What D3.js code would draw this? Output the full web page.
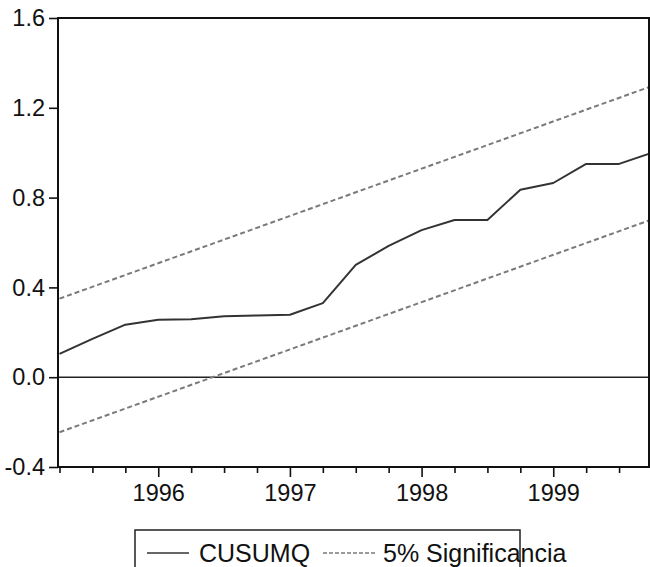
<!DOCTYPE html>
<html>
<head>
<meta charset="utf-8">
<script src="https://cdn.jsdelivr.net/npm/d3@7"></script>
<style>
  body { margin: 0; background: #fff; }
  svg { display: block; font-family: "Liberation Sans", Arial, sans-serif; }
</style>
</head>
<body>
<svg width="650" height="567"></svg>
<script>
const quarters = ["1995Q2","1995Q3","1995Q4",
  "1996Q1","1996Q2","1996Q3","1996Q4",
  "1997Q1","1997Q2","1997Q3","1997Q4",
  "1998Q1","1998Q2","1998Q3","1998Q4",
  "1999Q1","1999Q2","1999Q3","1999Q4"];

const cusumq = [0.104, 0.171, 0.234, 0.256, 0.258, 0.272, 0.275,
  0.278, 0.33, 0.50, 0.585, 0.655, 0.70, 0.70,
  0.835, 0.865, 0.95, 0.95, 1.0];

// 5% bands are straight lines, so only the two ends are kept
const bandQuarters = ["1995Q2", "1999Q4"];
const upperBand = [0.35, 1.297];
const lowerBand = [-0.245, 0.703];

const yTicks = [-0.4, 0.0, 0.4, 0.8, 1.2, 1.6];
const legendLabels = ["CUSUMQ", "5% Significancia"];

let svg = d3.select("svg");

const frame = { left: 58, right: 649, top: 18, bottom: 467 };

let x = d3.scaleLinear()
    .domain([0, quarters.length - 1])
    .range([59.5, 652]);

let y = d3.scaleLinear()
    .domain([-0.4, 1.6])
    .range([frame.bottom, frame.top]);

const qi = q => quarters.indexOf(q);
const fmt = d => d3.format(".1f")(d).replace("\u2212", "-");

svg.append("clipPath").attr("id", "plot")
  .append("rect")
    .attr("x", frame.left).attr("y", frame.top)
    .attr("width", frame.right - frame.left)
    .attr("height", frame.bottom - frame.top);

let plot = svg.append("g").attr("clip-path", "url(#plot)");

// zero line
plot.append("line")
    .attr("x1", frame.left).attr("x2", frame.right)
    .attr("y1", y(0)).attr("y2", y(0))
    .attr("stroke", "#222").attr("stroke-width", 1.6);

let bandLine = d3.line()
    .x((d, i) => x(qi(bandQuarters[i])))
    .y(d => y(d));

[upperBand, lowerBand].forEach(b => {
  plot.append("path")
      .datum(b)
      .attr("d", bandLine)
      .attr("fill", "none")
      .attr("stroke", "#7a7a7a")
      .attr("stroke-width", 2)
      .attr("stroke-dasharray", "5,3");
});

plot.append("path")
    .datum(cusumq)
    .attr("d", d3.line().x((d, i) => x(i)).y(d => y(d)))
    .attr("fill", "none")
    .attr("stroke", "#333")
    .attr("stroke-width", 2)
    .attr("stroke-linejoin", "round");

// frame
svg.append("rect")
    .attr("x", frame.left).attr("y", frame.top)
    .attr("width", frame.right - frame.left)
    .attr("height", frame.bottom - frame.top)
    .attr("fill", "none")
    .attr("stroke", "#111")
    .attr("stroke-width", 2);

// y axis
let yAxis = d3.axisLeft(y)
    .tickValues(yTicks)
    .tickSize(9)
    .tickPadding(4)
    .tickFormat(fmt);

let gY = svg.append("g")
    .attr("transform", `translate(${frame.left},0)`)
    .call(yAxis);
gY.select(".domain").remove();
gY.selectAll(".tick line").attr("stroke", "#111").attr("stroke-width", 1.6);
gY.selectAll(".tick text")
    .attr("font-size", 23.5)
    .attr("fill", "#111")
    .attr("dy", "0.33em");

// x axis: quarter ticks, years labelled at Q1
let xAxis = d3.axisBottom(x)
    .tickValues(d3.range(quarters.length))
    .tickSize(0)
    .tickPadding(17)
    .tickFormat(i => quarters[i].endsWith("Q1") ? quarters[i].slice(0, 4) : "");

let gX = svg.append("g")
    .attr("transform", `translate(0,${frame.bottom})`)
    .call(xAxis);
gX.select(".domain").remove();
gX.selectAll(".tick line")
    .attr("y2", i => quarters[i].endsWith("Q1") ? 10 : 6)
    .attr("stroke", "#111")
    .attr("stroke-width", 1.6);
gX.selectAll(".tick text")
    .attr("font-size", 23.5)
    .attr("fill", "#111");

// legend
let legend = svg.append("g");
legend.append("rect")
    .attr("x", 135).attr("y", 530)
    .attr("width", 385).attr("height", 50)
    .attr("fill", "none")
    .attr("stroke", "#222")
    .attr("stroke-width", 1.5);

legend.append("line")
    .attr("x1", 147).attr("x2", 189)
    .attr("y1", 553).attr("y2", 553)
    .attr("stroke", "#333").attr("stroke-width", 1.5);
legend.append("text")
    .attr("x", 199).attr("y", 562)
    .attr("font-size", 25).attr("fill", "#111")
    .text(legendLabels[0]);

legend.append("line")
    .attr("x1", 323).attr("x2", 377)
    .attr("y1", 553).attr("y2", 553)
    .attr("stroke", "#7a7a7a").attr("stroke-width", 1.5)
    .attr("stroke-dasharray", "4,2");
legend.append("text")
    .attr("x", 383).attr("y", 562)
    .attr("font-size", 25).attr("fill", "#111")
    .text(legendLabels[1]);
</script>
</body>
</html>
